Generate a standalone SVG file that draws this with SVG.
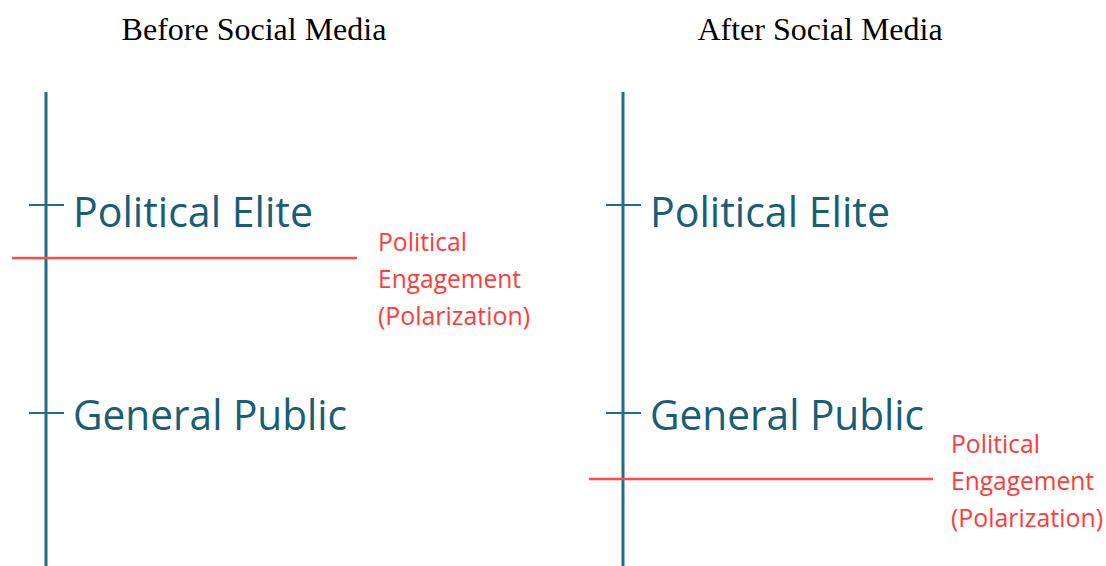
<svg xmlns="http://www.w3.org/2000/svg" width="1106" height="566" viewBox="0 0 1106 566">
<style>
.title{font-family:"Liberation Serif","Times New Roman",serif;font-size:32px;fill:#000;text-anchor:middle}
.axis{stroke:#1f6f86;stroke-width:3;fill:none}
.tick{stroke:#1f6f86;stroke-width:2;fill:none}
.lvl{font-family:"Open Sans","Noto Sans",sans-serif;font-size:42px;fill:#195e75}
.eng{stroke:#ff4a4a;stroke-width:2.5;fill:none}
.lab{font-family:"Open Sans","Noto Sans",sans-serif;font-size:25px;fill:#ff3b3b}
</style>
<rect width="1106" height="566" fill="#fff"/>
<text class="title" x="254" y="40">Before Social Media</text>
<text class="title" x="820" y="40">After Social Media</text>
<g id="before">
<line class="axis" x1="46" y1="92" x2="46" y2="566"/>
<g id="before-elite"><line class="tick" x1="29" y1="205" x2="64" y2="205"/><text class="lvl" x="73" y="227" textLength="240" lengthAdjust="spacingAndGlyphs">Political Elite</text></g>
<g id="before-public"><line class="tick" x1="29" y1="413" x2="64" y2="413"/><text class="lvl" x="73" y="430" textLength="274" lengthAdjust="spacingAndGlyphs">General Public</text></g>
</g>
<g id="after">
<line class="axis" x1="623" y1="92" x2="623" y2="566"/>
<g id="after-elite"><line class="tick" x1="606" y1="205" x2="641" y2="205"/><text class="lvl" x="650" y="227" textLength="240" lengthAdjust="spacingAndGlyphs">Political Elite</text></g>
<g id="after-public"><line class="tick" x1="606" y1="413" x2="641" y2="413"/><text class="lvl" x="650" y="430" textLength="274" lengthAdjust="spacingAndGlyphs">General Public</text></g>
</g>
<g id="connectors">
<line class="eng" x1="12" y1="258" x2="357" y2="258"/>
<line class="eng" x1="589" y1="479" x2="933" y2="479"/>
</g>
<g id="before-engagement">
<text class="lab" x="378" y="251" textLength="89" lengthAdjust="spacingAndGlyphs">Political</text>
<text class="lab" x="378" y="288" textLength="143" lengthAdjust="spacingAndGlyphs">Engagement</text>
<text class="lab" x="378" y="325" textLength="152" lengthAdjust="spacingAndGlyphs">(Polarization)</text>
</g>
<g id="after-engagement">
<text class="lab" x="951" y="453" textLength="89" lengthAdjust="spacingAndGlyphs">Political</text>
<text class="lab" x="951" y="490" textLength="143" lengthAdjust="spacingAndGlyphs">Engagement</text>
<text class="lab" x="951" y="527" textLength="152" lengthAdjust="spacingAndGlyphs">(Polarization)</text>
</g>
</svg>
